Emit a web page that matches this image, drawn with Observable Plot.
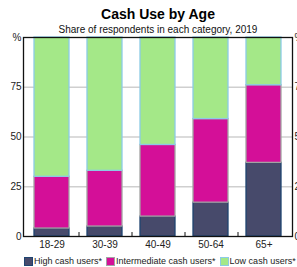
<!DOCTYPE html>
<html>
<head>
<meta charset="utf-8">
<script src="https://cdn.jsdelivr.net/npm/d3@7"></script>
<script src="https://cdn.jsdelivr.net/npm/@observablehq/plot@0.6"></script>
<style>
  html, body { margin: 0; padding: 0; background: #fff; }
  body { width: 297px; height: 267px; position: relative; overflow: hidden; font-family: "Liberation Sans", Arial, sans-serif; }
  .title { position: absolute; top: 7px; left: 23px; width: 270px; text-align: center; font-size: 14px; line-height: 14px; font-weight: bold; color: #000; }
  .subtitle { position: absolute; top: 24.5px; left: 23px; width: 270px; text-align: center; font-size: 10px; line-height: 10px; color: #111; }
  #chart { position: absolute; top: 0; left: 0; }
  .legend { position: absolute; top: 256px; left: 24px; display: flex; align-items: center; font-size: 9px; line-height: 10px; color: #222; white-space: nowrap; }
  .item { display: flex; align-items: center; margin-right: 4px; }
  .sw { width: 7px; height: 7px; border: 1px solid; margin-right: 1px; }
</style>
</head>
<body>
<div class="title">Cash Use by Age</div>
<div class="subtitle">Share of respondents in each category, 2019</div>
<div id="chart"></div>
<div class="legend" id="legend"></div>
<script>
const categories = ["18-29", "30-39", "40-49", "50-64", "65+"];
const seriesNames = ["High cash users*", "Intermediate cash users*", "Low cash users*"];
const highCash = [4, 5, 10, 17, 37];
const intermediateCash = [26, 28, 36, 42, 39];
const lowCash = [70, 67, 54, 41, 24];
const yTicks = [0, 25, 50, 75, 100];
const fills = ["#474a6b", "#d40f98", "#a4e888"];
const strokes = ["#1f4470", "#a3a3a3", "#8ccbe6"];

const seriesValues = [highCash, intermediateCash, lowCash];
const stacked = seriesValues.map((vals, s) =>
  categories.map((c, i) => {
    let base = 0;
    for (let k = 0; k < s; k++) base += seriesValues[k][i];
    return { category: c, series: seriesNames[s], y1: base, y2: base + vals[i] };
  })
);

const fmt = d => d === 100 ? "%" : String(d);

const plot = Plot.plot({
  width: 297,
  height: 252,
  marginTop: 37,
  marginBottom: 16,
  marginLeft: 23,
  marginRight: 5,
  style: { fontFamily: "Liberation Sans, Arial, sans-serif", fontSize: "10px", color: "#222", background: "transparent" },
  x: { domain: categories, paddingInner: 1/3, paddingOuter: 1/6, label: null },
  y: { domain: [0, 100], label: null },
  marks: [
    Plot.gridY([25, 50, 75], { stroke: "#cfcfcf", strokeOpacity: 1, strokeWidth: 1.5 }),
    ...stacked.map((data, s) => Plot.barY(data, {
      x: "category", y1: "y1", y2: "y2",
      fill: fills[s], stroke: strokes[s], strokeWidth: 1.3
    })),
    Plot.ruleX(categories.slice(0, -1), { x: d => d, dx: 27, y1: 0, y2: 2, stroke: "#111", strokeWidth: 1 }),
    Plot.axisY({ anchor: "left", ticks: yTicks, tickSize: 0, tickPadding: 2, tickFormat: fmt, label: null }),
    Plot.axisY({ anchor: "right", ticks: yTicks, tickSize: 0, tickPadding: 2, tickFormat: fmt, label: null }),
    Plot.axisX({ tickSize: 0, tickPadding: 4, label: null }),
    Plot.frame({ stroke: "#111", strokeWidth: 1.3 })
  ]
});
document.getElementById("chart").appendChild(plot);

const legend = document.getElementById("legend");
seriesNames.forEach((name, i) => {
  const item = document.createElement("div");
  item.className = "item";
  const sw = document.createElement("div");
  sw.className = "sw";
  sw.style.background = fills[i];
  sw.style.borderColor = strokes[i];
  const t = document.createElement("span");
  t.textContent = name;
  item.appendChild(sw);
  item.appendChild(t);
  legend.appendChild(item);
});
</script>
</body>
</html>
